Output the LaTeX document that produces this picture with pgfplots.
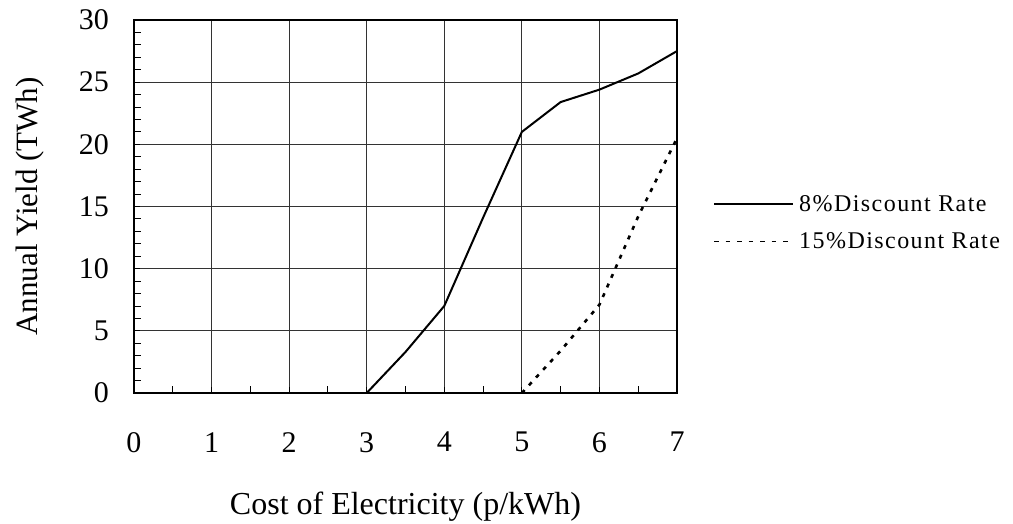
\documentclass[border=0pt]{standalone}
\usepackage{fontspec}
\setmainfont{Liberation Serif}
\usepackage{pgfplots}
\pgfplotsset{compat=1.18}
\begin{document}
\begin{tikzpicture}
\useasboundingbox (-134pt,-130pt) rectangle (879pt,393pt);
\begin{axis}[
  at={(0pt,0pt)}, anchor=south west,
  scale only axis, width=543pt, height=373pt,
  xmin=0, xmax=7, ymin=0, ymax=30,
  xtick={0,1,...,7}, ytick={0,5,...,30},
  minor x tick num=1, minor y tick num=4,
  xtick pos=bottom, ytick pos=left,
  grid=major,
  major grid style={line width=0.9pt, color=black!80},
  tick style={line width=0.9pt, black},
  major tick length=6pt, minor tick length=7pt,
  tick align=inside,
  axis line style={line width=1.5pt},
  clip=false,
  /pgf/number format/assume math mode=true,
  ticklabel style={font=\fontsize{30}{35}\selectfont},
  xticklabel style={anchor=north, inner sep=0pt, yshift=-39pt},
  yticklabel style={anchor=east, inner sep=0pt, xshift=-25pt},
  xlabel={Cost of Electricity (p/kWh)},
  xlabel style={at={(axis description cs:0.5,-0.3244)}, anchor=base, inner sep=0pt, font=\fontsize{32}{38}\selectfont},
  ylabel={Annual Yield (TWh)},
  ylabel style={at={(axis description cs:-0.1786,0.5)}, anchor=base, inner sep=0pt, font=\fontsize{31}{36}\selectfont},
  legend cell align=left,
  legend style={at={(axis description cs:1.0663,0.4558)}, anchor=west, draw=none, fill=none, inner sep=0pt,
    font=\fontsize{24}{28}\selectfont\addfontfeature{LetterSpace=6},
    row sep=20pt, column sep=5pt, nodes={inner sep=0pt}},
  legend image code/.code={\draw[#1] (0pt,0pt) -- (79pt,0pt);},
]
\addplot[black, line width=2pt] coordinates {
  (3,0) (3.5,3.3) (4,7) (4.5,14.1) (5,21) (5.5,23.4) (6,24.4) (6.5,25.7) (7,27.5)
};
\addlegendentry{8\%Discount Rate}
\addplot[black, line width=2.6pt, dash pattern=on 4pt off 6.5pt,
  legend image code/.code={\draw[black, line width=1.5pt, dash pattern=on 4.5pt off 7pt] (0pt,0pt) -- (79pt,0pt);}] coordinates {
  (5,0) (5.5,3.4) (6,7.1) (6.5,14.2) (7,20.5)
};
\addlegendentry{15\%Discount Rate}
\draw[line width=2.5pt] (rel axis cs:0,1) -- (rel axis cs:0,0) -- (rel axis cs:1,0);
\end{axis}
\end{tikzpicture}
\end{document}
